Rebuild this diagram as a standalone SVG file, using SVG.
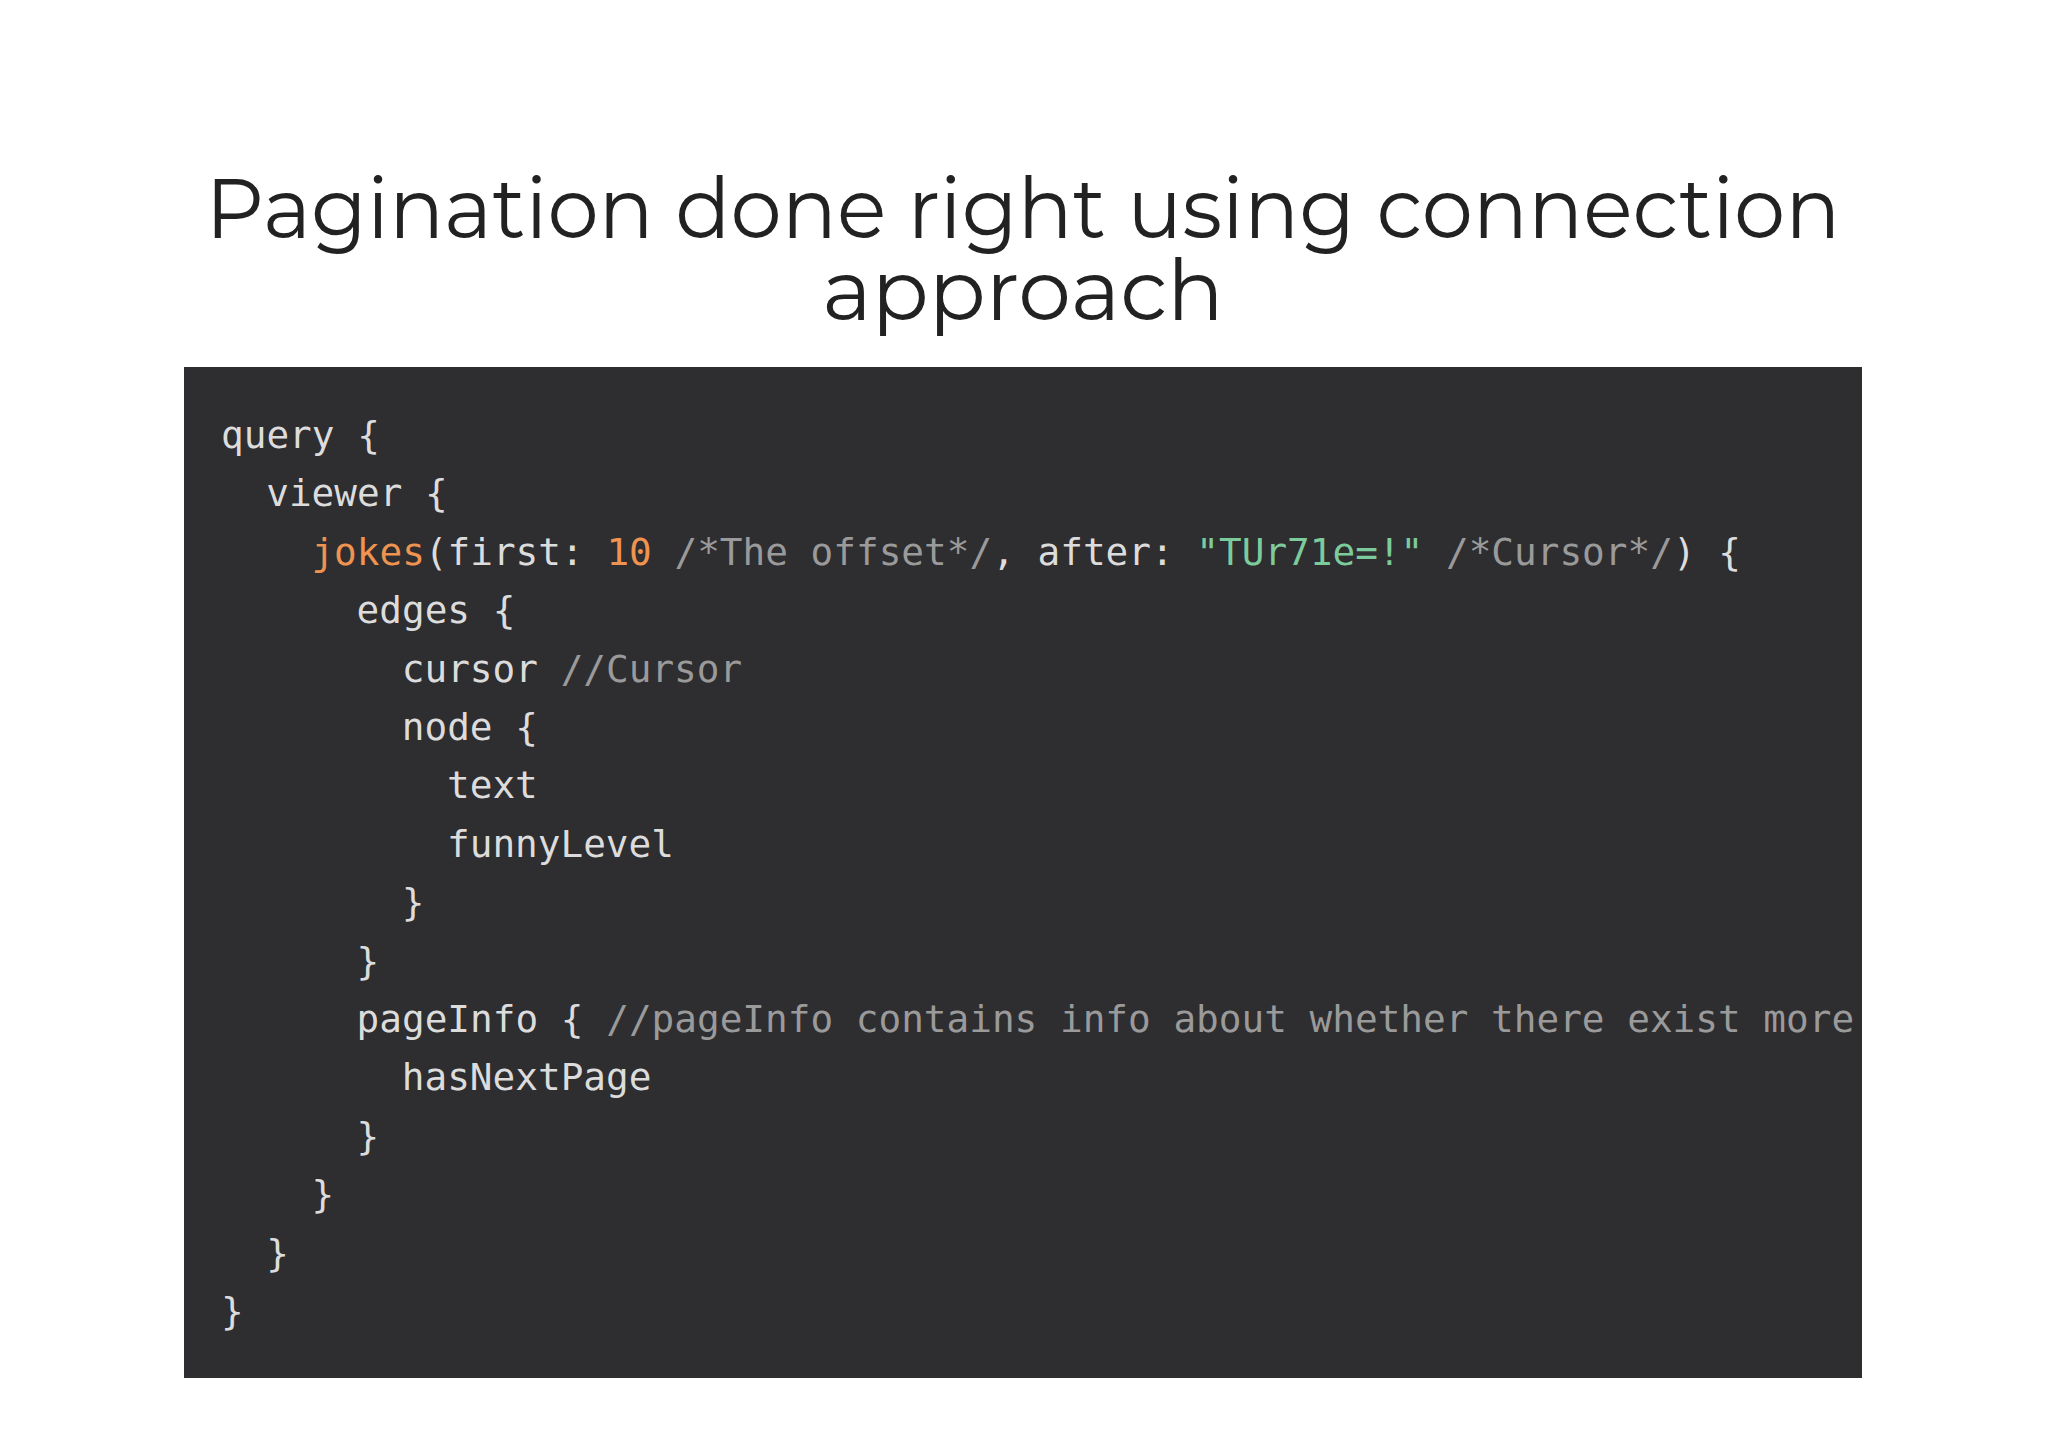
<svg xmlns="http://www.w3.org/2000/svg" width="2048" height="1448" viewBox="0 0 2048 1448">
<style>
.t{font-family:"Montserrat","Noto Sans","Liberation Sans",sans-serif;font-size:84px;fill:#222;text-anchor:middle}
.c{font-family:"DejaVu Sans Mono","Liberation Mono",monospace;font-size:37.7px;fill:#dcdcdc;white-space:pre}
.k{fill:#ee9350}.s{fill:#7ccb9c}.m{fill:#9a9a9a}
</style>
<defs><clipPath id="cp"><rect x="184" y="367" width="1678" height="1011"/></clipPath></defs>
<rect width="2048" height="1448" fill="#fff"/>
<g id="title">
<text class="t" x="1023" y="238" textLength="1635" lengthAdjust="spacingAndGlyphs">Pagination done right using connection</text>
<text class="t" x="1023" y="320">approach</text>
</g>
<g id="code">
<rect x="184" y="367" width="1678" height="1011" fill="#2e2d30"/>
<g clip-path="url(#cp)">
<text class="c" x="221" y="448">query {</text>
<text class="c" x="266.2" y="506.4">viewer {</text>
<text class="c" x="311.4" y="564.8"><tspan class="k">jokes</tspan>(first: <tspan class="k">10</tspan> <tspan class="m">/*The offset*/</tspan>, after: <tspan class="s">"TUr71e=!"</tspan> <tspan class="m">/*Cursor*/</tspan>) {</text>
<text class="c" x="356.6" y="623.2">edges {</text>
<text class="c" x="401.8" y="681.6">cursor <tspan class="m">//Cursor</tspan></text>
<text class="c" x="401.8" y="740">node {</text>
<text class="c" x="447" y="798.4">text</text>
<text class="c" x="447" y="856.8">funnyLevel</text>
<text class="c" x="401.8" y="915.2">}</text>
<text class="c" x="356.6" y="973.6">}</text>
<text class="c" x="356.6" y="1032">pageInfo { <tspan class="m">//pageInfo contains info about whether there exist more</tspan></text>
<text class="c" x="401.8" y="1090.4">hasNextPage</text>
<text class="c" x="356.6" y="1148.8">}</text>
<text class="c" x="311.4" y="1207.2">}</text>
<text class="c" x="266.2" y="1265.6">}</text>
<text class="c" x="221" y="1324">}</text>
</g>
</g>
</svg>
